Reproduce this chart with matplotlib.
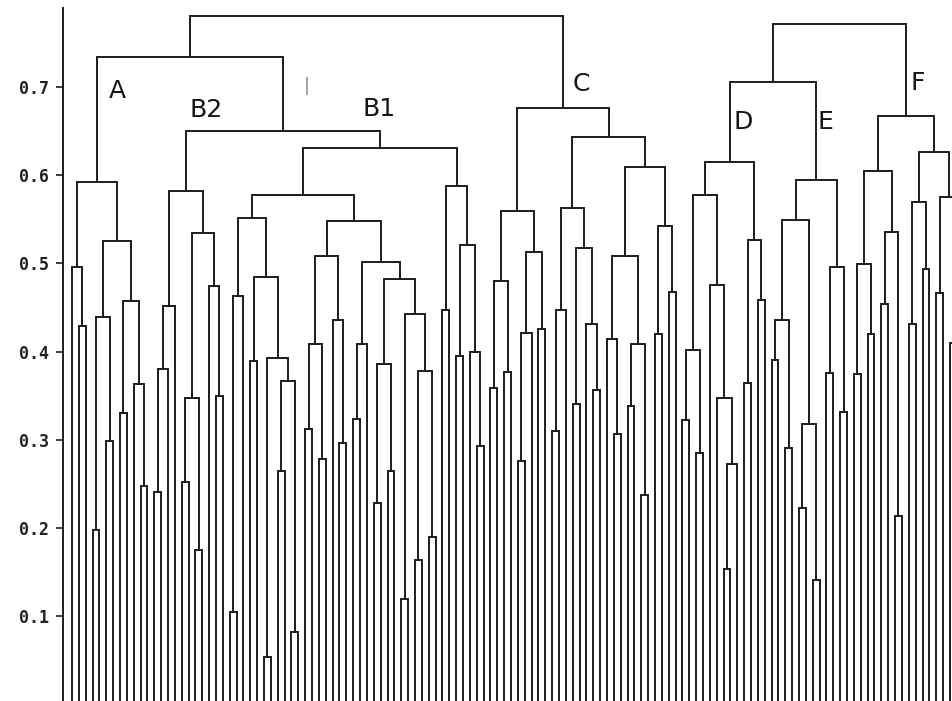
import matplotlib
matplotlib.use('Agg')
import matplotlib.pyplot as plt

L = 0                                   # a leaf (joins at height 0)

# merge heights, nested as (height, left, right)
cluster_A = (0.592,
             (0.496, L, (0.429, L, L)),
             (0.525,
              (0.439, (0.197, L, L), (0.298, L, L)),
              (0.457, (0.330, L, L), (0.363, L, (0.247, L, L)))))

cluster_B2 = (0.582,
              (0.452, (0.380, (0.241, L, L), L), L),
              (0.534,
               (0.347, (0.252, L, L), (0.175, L, L)),
               (0.474, L, (0.350, L, L))))

cluster_B1 = (0.631,
              (0.578,
               (0.551,
                (0.463, (0.105, L, L), L),
                (0.485, (0.389, L, L),
                 (0.393, (0.054, L, L), (0.366, (0.265, L, L), (0.082, L, L))))),
               (0.548,
                (0.508, (0.409, (0.312, L, L), (0.278, L, L)), (0.436, L, (0.296, L, L))),
                (0.502, (0.408, (0.323, L, L), L),
                 (0.482, (0.386, (0.228, L, L), (0.265, L, L)),
                  (0.442, (0.119, L, L), (0.378, (0.163, L, L), (0.190, L, L))))))),
              (0.588,
               (0.447, L, L),
               (0.521, (0.395, L, L), (0.400, L, (0.293, L, L)))))

cluster_C = (0.676,
             (0.559,
              (0.480, (0.359, L, L), (0.377, L, L)),
              (0.513, (0.421, (0.276, L, L), L), (0.425, L, L))),
             (0.643,
              (0.563,
               (0.447, (0.310, L, L), L),
               (0.517, (0.341, L, L), (0.431, L, (0.356, L, L)))),
              (0.609,
               (0.508, (0.414, L, (0.306, L, L)), (0.408, (0.338, L, L), (0.237, L, L))),
               (0.542, (0.420, L, L), (0.468, L, L)))))

cluster_D = (0.615,
             (0.577,
              (0.402, (0.322, L, L), (0.285, L, L)),
              (0.475, L, (0.347, L, (0.272, (0.153, L, L), L)))),
             (0.526, (0.364, L, L), (0.458, L, L)))

cluster_E = (0.594,
             (0.549,
              (0.436, (0.390, L, L), (0.291, L, L)),
              (0.318, (0.222, L, L), (0.141, L, L))),
             (0.496, (0.376, L, L), (0.331, L, L)))

cluster_F = (0.667,
             (0.605,
              (0.499, (0.374, L, L), (0.420, L, L)),
              (0.536, (0.454, L, L), (0.213, L, L))),
             (0.626,
              (0.570, (0.431, L, L), (0.494, L, L)),
              (0.575, (0.466, L, L), (0.477, (0.410, L, L), L))))

h_AB, h_B, h_left = 0.734, 0.650, 0.781
h_DE, h_right = 0.706, 0.771

left_tree = (h_left, (h_AB, cluster_A, (h_B, cluster_B2, cluster_B1)), cluster_C)
right_tree = (h_right, (h_DE, cluster_D, cluster_E), cluster_F)

label_text = ['A', 'B2', 'B1', 'C', 'D', 'E', 'F']
label_x = [6.6, 19.5, 44.8, 74.2, 97.8, 109.9, 123.3]
label_y = [0.695, 0.674, 0.675, 0.703, 0.660, 0.660, 0.704]

yticks = [0.1, 0.2, 0.3, 0.4, 0.5, 0.6, 0.7]

LINE = '#1c1c1c'

fig = plt.figure(figsize=(9.52, 7.01), dpi=100)
ax = fig.add_axes([63 / 952, 0, 889 / 952, 693 / 701])

leaf = [0]
def draw(node):
    if not isinstance(node, tuple):          # leaf: next slot on the x axis
        x = leaf[0]
        leaf[0] += 1
        return x, 0.0
    h, left, right = node
    xl, hl = draw(left)
    xr, hr = draw(right)
    ax.plot([xl, xl, xr, xr], [hl, h, h, hr], color=LINE, lw=1.4, solid_joinstyle='miter')
    return (xl + xr) / 2, h

draw(left_tree)
draw(right_tree)

ax.set_xlim(-1.31, 128.3)
ax.set_ylim(0.0036, 0.7896)

for s in ['top', 'right', 'bottom']:
    ax.spines[s].set_visible(False)
ax.spines['left'].set_linewidth(1.4)
ax.spines['left'].set_color(LINE)

ax.set_xticks([])
ax.set_yticks(yticks)
ax.set_yticklabels(['%.1f' % t for t in yticks], fontfamily='DejaVu Sans Mono',
                   fontweight='bold', fontsize=12, color='#222222')
ax.tick_params(axis='y', direction='out', length=5, width=1.2, pad=5, color=LINE)

for t, x, y in zip(label_text, label_x, label_y):
    ax.text(x, y, t, ha='center', va='center', fontsize=18, color='#151515')

# faint stray stroke on the scanned original
ax.text(34.2, 0.701, '|', ha='center', va='center', fontsize=13, color='#888888')

fig.savefig('out.png', dpi=100)
